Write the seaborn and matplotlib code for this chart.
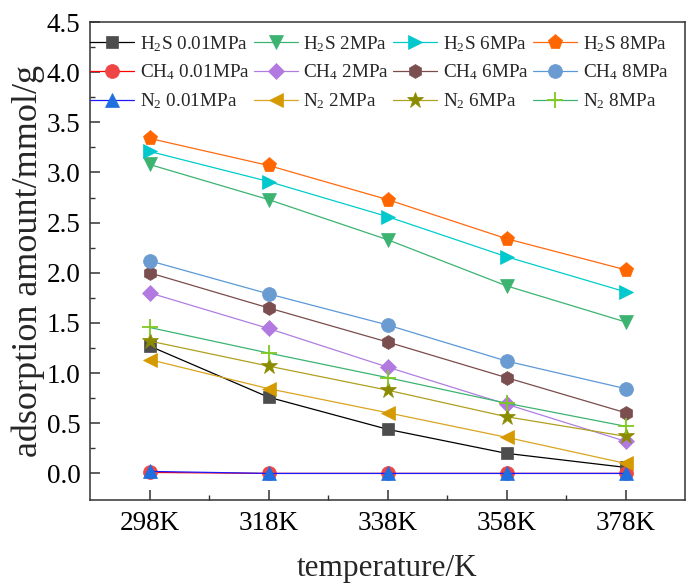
import matplotlib
matplotlib.use("Agg")
import matplotlib.pyplot as plt
import seaborn as sns
import pandas as pd

temperatures = ["298K", "318K", "338K", "358K", "378K"]

h2s_001 = [1.27, 0.76, 0.44, 0.20, 0.06]
h2s_2 = [3.08, 2.73, 2.33, 1.87, 1.51]
h2s_6 = [3.21, 2.91, 2.56, 2.16, 1.81]
h2s_8 = [3.34, 3.07, 2.73, 2.34, 2.03]
ch4_001 = [0.01, 0.00, 0.00, 0.00, 0.00]
ch4_2 = [1.80, 1.445, 1.06, 0.69, 0.32]
ch4_6 = [2.00, 1.65, 1.31, 0.955, 0.605]
ch4_8 = [2.12, 1.79, 1.48, 1.12, 0.845]
n2_001 = [0.02, 0.00, 0.00, 0.00, 0.00]
n2_2 = [1.135, 0.845, 0.605, 0.36, 0.10]
n2_6 = [1.32, 1.07, 0.83, 0.565, 0.37]
n2_8 = [1.455, 1.20, 0.955, 0.70, 0.47]

series_labels = [
    r"H$_\mathregular{2}$S 0.01MPa", r"H$_\mathregular{2}$S 2MPa", r"H$_\mathregular{2}$S 6MPa", r"H$_\mathregular{2}$S 8MPa",
    r"CH$_\mathregular{4}$ 0.01MPa", r"CH$_\mathregular{4}$ 2MPa", r"CH$_\mathregular{4}$ 6MPa", r"CH$_\mathregular{4}$ 8MPa",
    r"N$_\mathregular{2}$ 0.01MPa", r"N$_\mathregular{2}$ 2MPa", r"N$_\mathregular{2}$ 6MPa", r"N$_\mathregular{2}$ 8MPa",
]
series_values = [h2s_001, h2s_2, h2s_6, h2s_8, ch4_001, ch4_2, ch4_6, ch4_8, n2_001, n2_2, n2_6, n2_8]

# style: (line color, marker, marker face color, marker size)
styles = [
    ("#000000", "s", "#4d4d4d", 8),
    ("#3cb371", "v", "#3cb371", 10),
    ("#00cccc", ">", "#00c8cc", 10),
    ("#ff6a10", "p", "#ff6600", 11),
    ("#ff0000", "o", "#f04545", 10),
    ("#b07ee0", "D", "#b27ae0", 8.5),
    ("#7a4c4c", "h", "#7b4f4f", 10),
    ("#5c98d8", "o", "#6a9bd1", 10),
    ("#1a1aff", "^", "#1f6fe0", 10),
    ("#daa520", "<", "#d49a00", 10),
    ("#b0a020", "*", "#8b8b00", 12),
    ("#3cb371", "+", "#7ec820", 11),
]

sns.set_theme(style="ticks")
plt.rcParams["font.family"] = ["Liberation Serif", "DejaVu Serif"]
plt.rcParams["mathtext.fontset"] = "custom"
plt.rcParams["mathtext.rm"] = "Liberation Serif"
plt.rcParams["mathtext.it"] = "Liberation Serif:italic"

fig = plt.figure(figsize=(6.88, 5.86), dpi=100)
ax = fig.add_axes([90 / 688, 1 - 500 / 586, (685 - 90) / 688, (500 - 22) / 586])

x_idx = list(range(len(temperatures)))
for label, vals, (lc, mk, mfc, ms) in zip(series_labels, series_values, styles):
    df = pd.DataFrame({"x": x_idx, "y": vals})
    kw = dict(marker=mk, markersize=ms, linewidth=0.9, color=lc, label=label)
    if mk == "+":
        kw.update(markeredgecolor=mfc, markeredgewidth=1.3)
    else:
        kw.update(markerfacecolor=mfc, markeredgecolor=mfc, markeredgewidth=0.5)
    sns.lineplot(data=df, x="x", y="y", ax=ax, **kw)

ax.set_xlim(-0.5, 4.5)
ax.set_ylim(-0.265, 4.5)
ax.set_xticks(x_idx)
ax.set_xticklabels(temperatures)
ax.set_xticks([i + 0.5 for i in x_idx[:-1]], minor=True)
yt = [0, 0.5, 1.0, 1.5, 2.0, 2.5, 3.0, 3.5, 4.0, 4.5]
ax.set_yticks(yt)
ax.set_yticklabels([f"{v:.1f}" for v in yt])
ax.set_yticks([0.25 + 0.5 * i for i in range(9)], minor=True)

ax.tick_params(axis="both", which="major", direction="in", length=7, width=1.1, labelsize=19.5, color="#333333", labelcolor="black")
ax.tick_params(axis="both", which="minor", direction="in", length=3.5, width=1.0, color="#333333")
ax.tick_params(axis="x", which="major", pad=8)
ax.tick_params(axis="y", which="major", pad=7)

for side in ["left", "right", "top", "bottom"]:
    ax.spines[side].set_visible(True)
    ax.spines[side].set_linewidth(1.1)
    ax.spines[side].set_color("#333333")

ax.set_xlabel("temperature/K", fontsize=22.5, labelpad=13)
ax.set_ylabel("adsorption amount/mmol/g", fontsize=26, labelpad=1)

handles, labels = ax.get_legend_handles_labels()
order = [0, 4, 8, 1, 5, 9, 2, 6, 10, 3, 7, 11]
ax.legend([handles[i] for i in order], [labels[i] for i in order], ncol=4, frameon=False,
          loc="upper left", bbox_to_anchor=(0.0, 1 - 12 / 478), borderaxespad=0, borderpad=0,
          fontsize=13.8, handlelength=2.3, handletextpad=0.3, columnspacing=0.2, labelspacing=0.47)

fig.savefig("out.png", dpi=100)
